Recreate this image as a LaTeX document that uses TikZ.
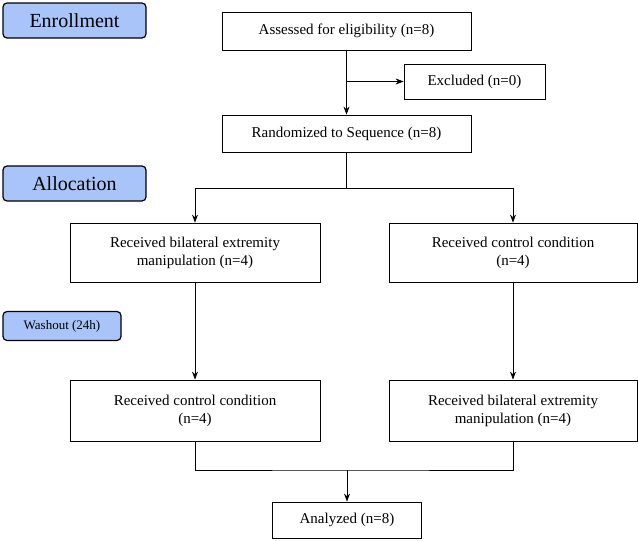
\documentclass[tikz,border=0pt]{standalone}
\usepackage{fontspec}
\setmainfont{Liberation Serif}
\usetikzlibrary{arrows.meta}
\definecolor{phase}{HTML}{A8C4F8}
\begin{document}
\begin{tikzpicture}[x=1pt,y=-1pt,
  box/.style={draw,thick,align=center,inner sep=0,font=\fontsize{15}{18}\selectfont},
  phase/.style={draw,very thick,rounded corners=4pt,fill=phase,inner sep=0,font=\fontsize{20}{24}\selectfont},
  arr/.style={-{Stealth[length=8pt,width=6pt]},thick},
  ln/.style={thick}]
\useasboundingbox (0,0) rectangle (638,541);
\node[phase,minimum width=143,minimum height=35] (enr) at (74.5,20.5) {Enrollment};
\node[phase,minimum width=143,minimum height=35] (all) at (74.5,183.5) {Allocation};
\node[phase,minimum width=118,minimum height=29,font=\fontsize{13}{16}\selectfont] (wash) at (62,326) {Washout (24h)};
\node[box,minimum width=249,minimum height=38] (ass) at (346.5,31) {Assessed for eligibility (n=8)};
\node[box,minimum width=141,minimum height=35] (exc) at (474.5,81.5) {Excluded (n=0)};
\node[box,minimum width=249,minimum height=37] (ran) at (346.5,133.5) {Randomized to Sequence (n=8)};
\node[box,minimum width=250,minimum height=59] (l1) at (195,252.5) {Received bilateral extremity\\manipulation (n=4)};
\node[box,minimum width=248,minimum height=59] (r1) at (513,252.5) {Received control condition\\(n=4)};
\node[box,minimum width=250,minimum height=61] (l2) at (195,410.5) {Received control condition\\(n=4)};
\node[box,minimum width=248,minimum height=61] (r2) at (513,410.5) {Received bilateral extremity\\manipulation (n=4)};
\node[box,minimum width=149,minimum height=36] (ana) at (347,520) {Analyzed (n=8)};
\coordinate (c1) at (346.5,81.5);
\coordinate (c2) at (346.5,188);
\coordinate (c3) at (347,470);
\draw[arr] (ass) -- (ran);
\draw[arr] (c1) -- (exc);
\draw[ln] (ran) -- (c2);
\draw[arr] (c2) -| (l1);
\draw[arr] (c2) -| (r1);
\draw[arr] (l1) -- (l2);
\draw[arr] (r1) -- (r2);
\draw[ln] (l2.south) |- (c3) -| (r2.south);
\draw[arr] (c3) -- (ana);
\end{tikzpicture}
\end{document}
